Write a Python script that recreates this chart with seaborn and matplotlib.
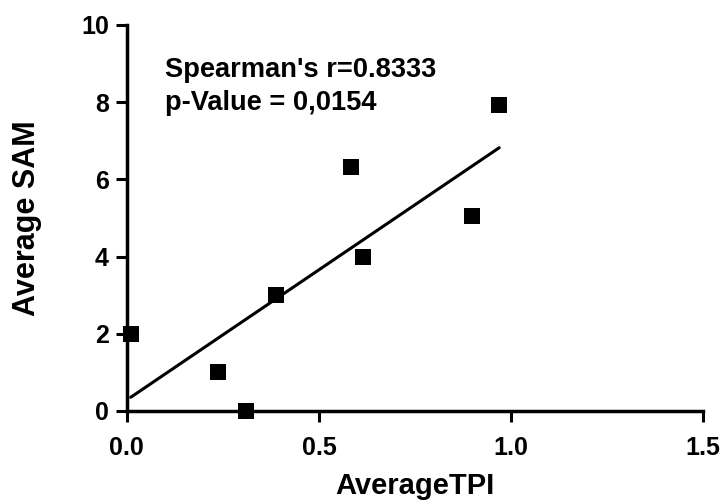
import numpy as np
import pandas as pd
import seaborn as sns
import matplotlib.pyplot as plt

# values
tpi = [0.01, 0.236, 0.309, 0.387, 0.583, 0.614, 0.898, 0.969]
sam = [2.0, 1.0, 0.0, 3.0, 6.33, 4.0, 5.05, 7.93]
x_ticks = [0.0, 0.5, 1.0, 1.5]
y_ticks = [0, 2, 4, 6, 8, 10]
stat_lines = ["Spearman's r=0.8333", "p-Value = 0,0154"]

df = pd.DataFrame({'AverageTPI': tpi, 'AverageSAM': sam})

sns.set_theme(style="ticks")
plt.rcParams['font.family'] = ['Liberation Sans', 'DejaVu Sans']
plt.rcParams['font.weight'] = 'bold'

fig = plt.figure(figsize=(7.25, 5), dpi=100)
ax = fig.add_axes([0.175, 0.178, 0.795, 0.772])

sns.regplot(data=df, x='AverageTPI', y='AverageSAM', ax=ax, ci=None, marker='s',
            scatter_kws=dict(s=130, color='black', alpha=1, linewidths=0, clip_on=False, zorder=4),
            line_kws=dict(color='black', lw=2.2))

ax.set_xlim(0, 1.5)
ax.set_ylim(0, 10)
ax.set_xticks(x_ticks)
ax.set_xticklabels([f"{v:.1f}" for v in x_ticks])
ax.set_yticks(y_ticks)
ax.tick_params(width=2.2, length=8, labelsize=18, pad=5, color='black', labelcolor='black')
ax.tick_params(axis='x', pad=10)
for s in ['left', 'bottom']:
    ax.spines[s].set_linewidth(2.5)
    ax.spines[s].set_color('black')
sns.despine(ax=ax)

ax.set_xlabel('AverageTPI', fontsize=21, fontweight='bold', color='black', labelpad=9)
ax.set_ylabel('Average SAM', fontsize=22, fontweight='bold', color='black', labelpad=28)

ax.text(0.099, 8.65, stat_lines[0], fontsize=19.6, fontweight='bold', va='baseline', color='black')
ax.text(0.099, 7.8, stat_lines[1], fontsize=19.6, fontweight='bold', va='baseline', color='black')

fig.savefig('out.png', dpi=100)
